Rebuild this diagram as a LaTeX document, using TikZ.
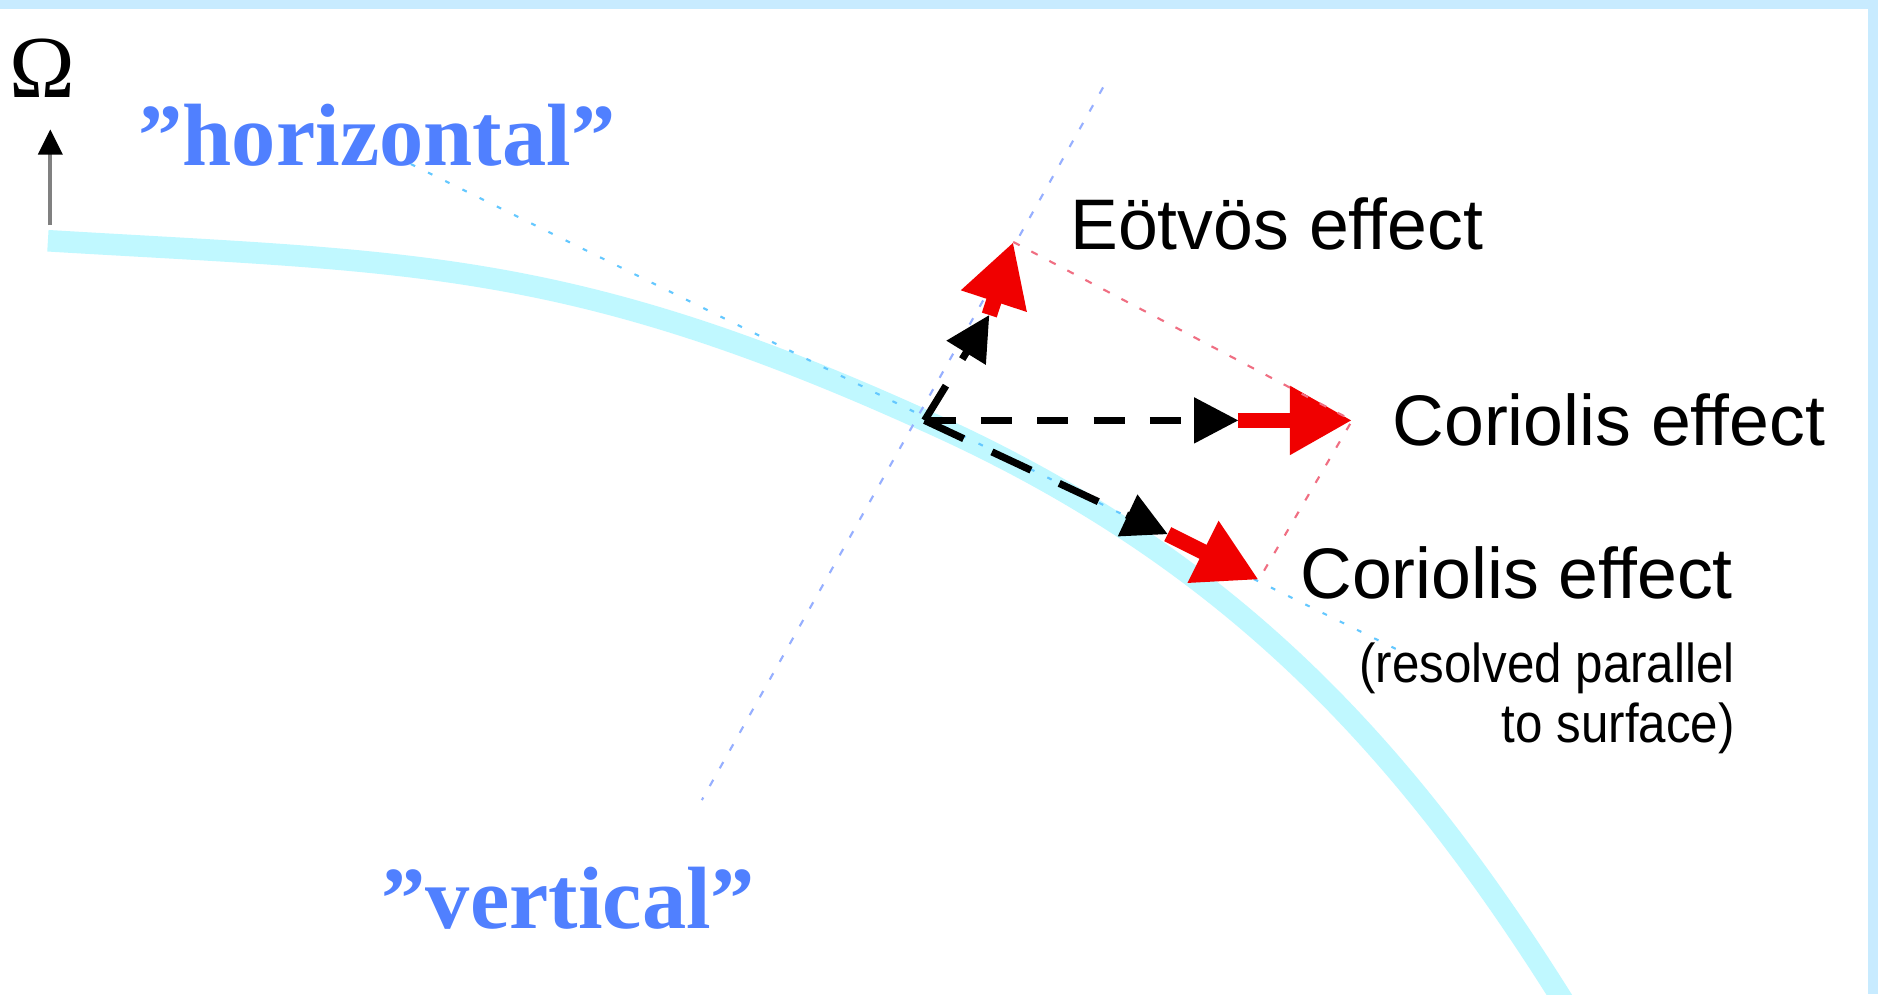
\documentclass[tikz,border=0pt]{standalone}
\usepackage{fontspec}
\setmainfont{Liberation Serif}
\newfontfamily\labelfont{Liberation Sans}
\newfontfamily\narrowfont[FakeStretch=0.9]{Liberation Sans}
\usetikzlibrary{arrows.meta}
\definecolor{framecol}{RGB}{200,235,255}
\definecolor{surfcol}{RGB}{192,248,255}
\definecolor{quotecol}{RGB}{80,128,255}
\definecolor{horizcol}{RGB}{100,200,255}
\definecolor{vertcol}{RGB}{150,175,255}
\definecolor{forcecol}{RGB}{240,0,0}
\definecolor{guidecol}{RGB}{240,110,130}

\begin{document}
\begin{tikzpicture}[x=0.01cm, y=-0.01cm,
    effect/.style={font=\labelfont\fontsize{17}{20}\selectfont, inner sep=0pt},
    quoted/.style={font=\bfseries\fontsize{21}{24}\selectfont, text=quotecol, inner sep=0pt},
    blackpart/.style={line width=0.6mm, dash pattern=on 2.6mm off 2.1mm, -{Triangle[length=3.7mm, width=3.7mm]}},
    redpart/.style={forcecol, line width=1.3mm, -{Triangle[length=5.2mm, width=5.4mm]}},
    guide/.style={line width=0.5pt, dash pattern=on 0.6mm off 1.1mm}]
    \useasboundingbox (0,0) rectangle (1568,830);
    \fill[white] (0,0) rectangle (1568,830);
    \fill[framecol] (0,0) rectangle (1568,7.5);
    \fill[framecol] (1559.5,0) rectangle (1568,830);

    \coordinate (O) at (772,351);
    \draw[surfcol, line width=1.8mm] (40,201) .. controls (340,219) and (472,215) .. (O) .. controls (1032,467) and (1178,630) .. (1314,850);

    \node[anchor=base, font=\fontsize{21}{24}\selectfont, inner sep=0pt] (omega) at (35,81) {Ω};
    \coordinate (omegaFoot) at (42,188);
    \coordinate (omegaTip) at (42,108);
    \draw[gray, line width=0.9pt, -{Triangle[length=2.1mm, width=2mm, color=black]}] (omegaFoot) -- (omegaTip);

    \node[quoted, anchor=base west] (horiz) at (115,138) {”horizontal”};
    \node[quoted, anchor=base west] (vert) at (318,775) {”vertical”};

    \coordinate (hStart) at (343,137);
    \coordinate (hEnd) at (1178,548);
    \coordinate (vStart) at (921,73);
    \coordinate (vEnd) at (586,668);
    \draw[guide, horizcol, dash pattern=on 0.4mm off 1.2mm] (hStart) -- (hEnd);
    \draw[guide, vertcol] (vStart) -- (vEnd);

    \coordinate (eotBase) at (826,263);
    \coordinate (eotTip) at (846,202);
    \coordinate (corBase) at (1034,351);
    \coordinate (corTip) at (1129,351);
    \coordinate (surfBase) at (975,446);
    \coordinate (surfTip) at (1051,484);

    \draw[blackpart, dash pattern=on 3.4mm off 2.6mm] (O) -- (eotBase);
    \draw[blackpart] (O) -- (corBase);
    \draw[blackpart, dash pattern=on 3.6mm off 2.6mm] (O) -- (surfBase);
    \draw[redpart] (eotBase) -- (eotTip);
    \draw[redpart] (corBase) -- (corTip);
    \draw[redpart] (surfBase) -- (surfTip);
    \draw[guide, guidecol] (eotTip) -- (corTip) -- (surfTip);

    \node[effect, anchor=base west] (eotvos) at (893,208) {Eötvös effect};
    \node[effect, anchor=base west] (coriolis) at (1162,372) {Coriolis effect};
    \node[effect, anchor=base west] (surfCoriolis) at (1085,500) {Coriolis effect};
    \node[anchor=north east, align=right, inner sep=0pt, font=\narrowfont\fontsize{13}{14.2}\selectfont] (resolved) at (1449,536) {(resolved parallel\\to surface)};
\end{tikzpicture}
\end{document}
